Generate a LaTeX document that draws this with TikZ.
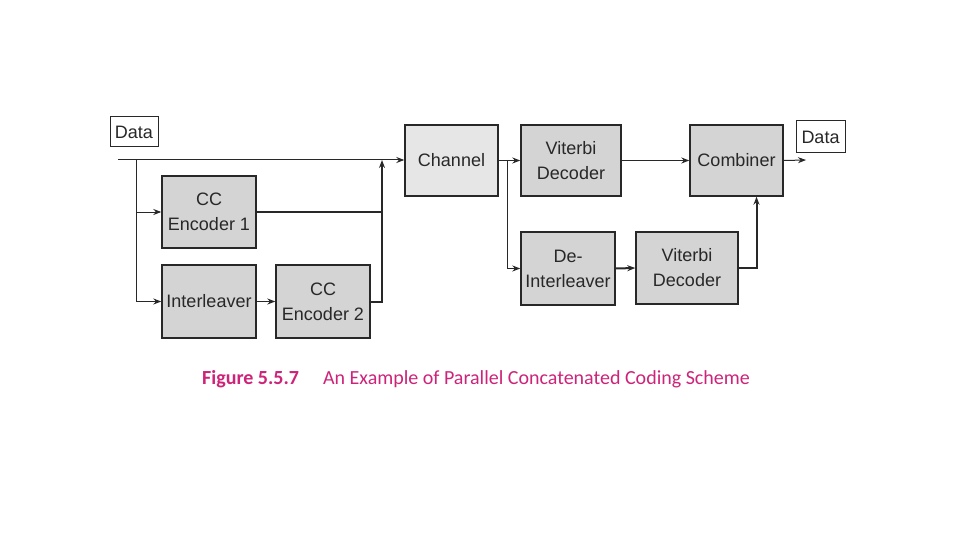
\documentclass[tikz,border=0pt]{standalone}
\usepackage{fontspec}
\setmainfont{Liberation Sans}
\newfontfamily\capfont{Carlito}
\usetikzlibrary{arrows.meta,calc}
\definecolor{boxgray}{RGB}{212,212,212}
\definecolor{chgray}{RGB}{230,230,230}
\definecolor{edgec}{RGB}{40,40,40}
\definecolor{pinkc}{RGB}{205,35,120}
\begin{document}
\begin{tikzpicture}[x=1pt,y=-1pt,
  blk/.style={draw=edgec,line width=1.4pt,fill=boxgray,align=center,inner sep=0pt,
    font=\fontsize{18}{25}\selectfont,text=edgec},
  lbl/.style={draw=edgec,line width=1pt,fill=white,inner sep=0pt,
    font=\fontsize{18}{20}\selectfont,text=edgec},
  wire/.style={draw=edgec,line width=1pt},
  bold wire/.style={draw=edgec,line width=2pt},
  arr/.style={-{Stealth[length=8pt,width=6pt]}},
]
\useasboundingbox (0,0) rectangle (960,540);
\node[lbl,minimum width=48pt,minimum height=30pt] (d1) at (134,132) {Data};
\node[blk,minimum width=94pt,minimum height=72pt] (cc1) at (209,212) {CC\\Encoder 1};
\node[blk,minimum width=94pt,minimum height=73pt] (il) at (209,301.5) {Interleaver};
\node[blk,minimum width=94pt,minimum height=73pt] (cc2) at (323,301.5) {CC\\Encoder 2};
\node[blk,fill=chgray,minimum width=93pt,minimum height=71pt] (ch) at (451.5,160.5) {Channel};
\node[blk,minimum width=100pt,minimum height=71pt] (vd1) at (571,160.5) {Viterbi\\Decoder};
\node[blk,minimum width=94pt,minimum height=73pt] (dil) at (568,268.5) {De-\\Interleaver};
\node[blk,minimum width=102pt,minimum height=72pt] (vd2) at (687,268) {Viterbi\\Decoder};
\node[blk,minimum width=93pt,minimum height=71pt] (comb) at (736.5,160.5) {Combiner};
\node[lbl,minimum width=49pt,minimum height=32pt] (d2) at (820.5,137) {Data};
\coordinate (s) at (118,160);
\coordinate (b1) at (136,160);
\coordinate (m) at (382,160);
\coordinate (b2) at (507,160);
\coordinate (o) at (806,160);
\draw[wire,arr] (s) -- (ch.west |- s);
\draw[wire,arr] (b1) |- (cc1.west);
\draw[wire,arr] (b1) |- (il.west);
\draw[wire,arr] (il.east) -- (cc2.west);
\draw[bold wire] (cc1.east) -- (cc1.east -| m);
\draw[bold wire,arr] (cc2.east) -| (m);
\draw[wire,arr] (ch.east) -- (vd1.west);
\draw[wire,arr] (b2) |- (dil.west);
\draw[bold wire,arr] (dil.east) -- (vd2.west);
\draw[wire,arr] (vd1.east) -- (comb.west);
\draw[bold wire,arr] (vd2.east) -| ($(comb.south)+(20,0)$);
\draw[wire,arr] (comb.east) -- (o);
\node[text=pinkc,font=\capfont\fontsize{20}{22}\selectfont,anchor=west,inner sep=0pt] (cap) at (202,379)
  {\textbf{Figure 5.5.7}\hspace{1.2em}An Example of Parallel Concatenated Coding Scheme};
\end{tikzpicture}
\end{document}
